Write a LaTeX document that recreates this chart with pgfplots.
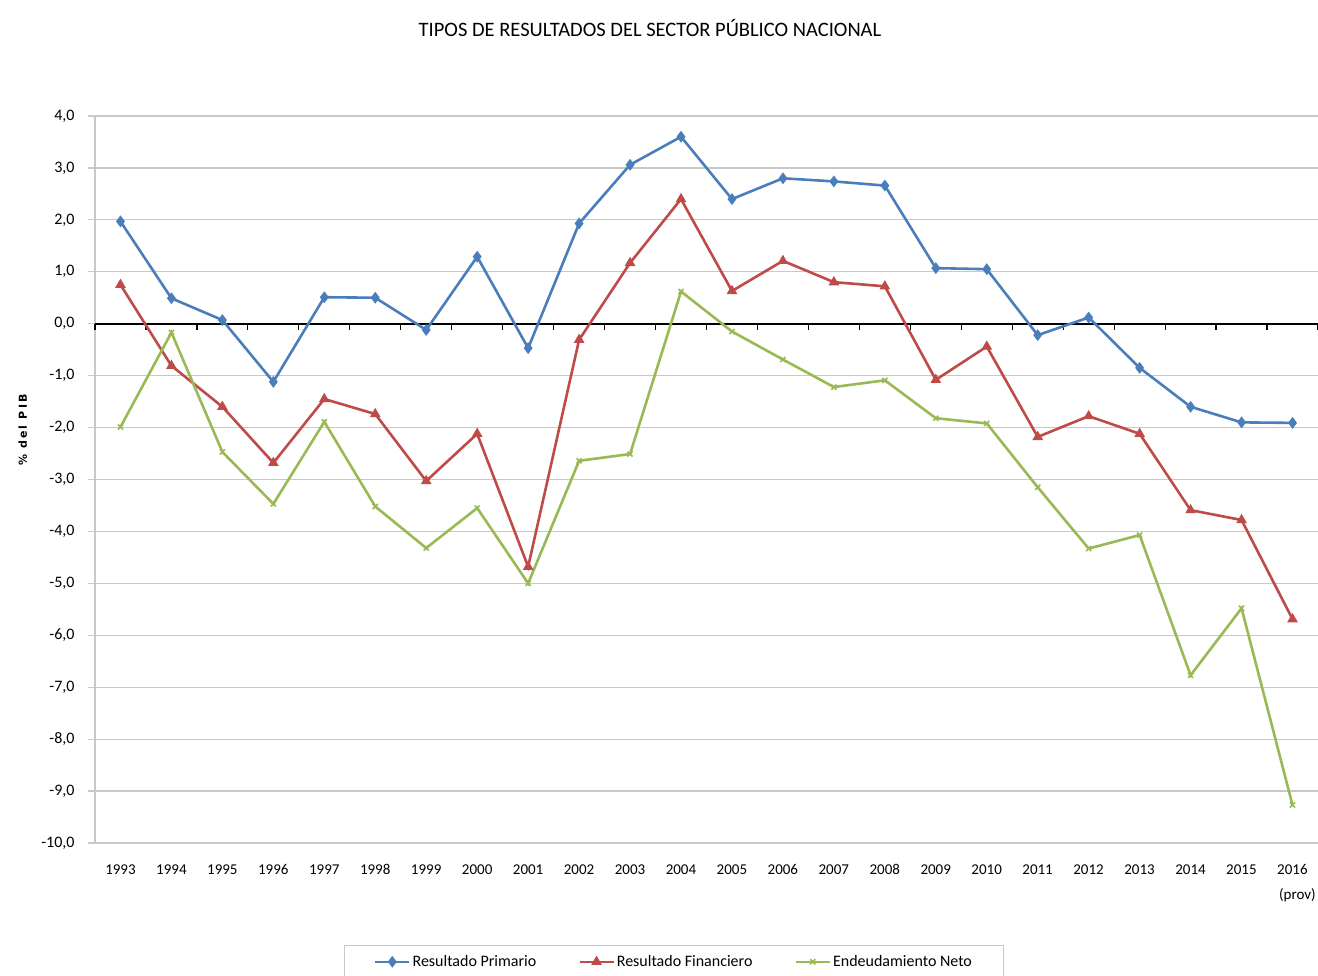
\documentclass[border=0pt]{standalone}
\usepackage{pgfplots}
\pgfplotsset{compat=1.18}
\usepackage{pgfplotstable}
\usepackage{fontspec}
\setmainfont{Carlito}
\newfontfamily\labfont[LetterSpace=20]{DejaVu Sans}
\definecolor{cb}{HTML}{4A7EBB}
\definecolor{cr}{HTML}{BE4B48}
\definecolor{cg}{HTML}{98B954}
\definecolor{gridc}{HTML}{C8C8C8}
\pgfplotstableread{
year P F E
1993 1.97 0.75 -1.99
1994 0.49 -0.81 -0.17
1995 0.07 -1.60 -2.47
1996 -1.12 -2.68 -3.47
1997 0.51 -1.45 -1.89
1998 0.50 -1.74 -3.52
1999 -0.12 -3.03 -4.32
2000 1.29 -2.12 -3.55
2001 -0.47 -4.68 -5.00
2002 1.93 -0.31 -2.64
2003 3.06 1.17 -2.51
2004 3.60 2.40 0.62
2005 2.40 0.63 -0.15
2006 2.80 1.21 -0.69
2007 2.74 0.80 -1.22
2008 2.66 0.72 -1.09
2009 1.07 -1.08 -1.82
2010 1.05 -0.44 -1.92
2011 -0.22 -2.18 -3.15
2012 0.12 -1.78 -4.33
2013 -0.85 -2.12 -4.07
2014 -1.60 -3.59 -6.77
2015 -1.90 -3.78 -5.48
2016 -1.91 -5.69 -9.27
}\data
\begin{document}
\begin{tikzpicture}[x=1pt,y=1pt]
\useasboundingbox (0,0) rectangle (1318,976);
\node[font=\fontsize{20.5}{22}\selectfont] at (650,948) {TIPOS DE RESULTADOS DEL SECTOR PÚBLICO NACIONAL};
\begin{axis}[
  at={(95pt,133pt)}, anchor=south west, scale only axis,
  width=1223pt, height=727pt,
  xmin=1992.5, xmax=2016.5, ymin=-10, ymax=4,
  xtick={1993,...,2016},
  xticklabels={1993,1994,1995,1996,1997,1998,1999,2000,2001,2002,2003,2004,2005,2006,2007,2008,2009,2010,2011,2012,2013,2014,2015,{2016\\\hspace*{10pt}(prov)}},
  xticklabel style={align=center, font=\fontsize{15}{25}\selectfont, yshift=-11pt},
  x tick style={draw=none},
  ytick distance=1,
  yticklabel style={font=\fontsize{16}{18}\selectfont, xshift=-10pt},
  y tick style={gridc, line width=1.2pt},
  major tick length=7pt,
  tick align=outside,
  /pgf/number format/.cd, fixed, fixed zerofill, precision=1, use comma, assume math mode=true,
  /pgfplots/.cd,
  ymajorgrids, grid style={gridc, line width=1.2pt},
  axis line style={draw=none},
  ylabel={\labfont\bfseries\fontsize{11}{12}\selectfont \% del PIB},
  ylabel style={at={(axis description cs:-0.059,0.568)}, anchor=center},
  legend columns=3,
  legend style={at={(0.4734,-0.1403)}, anchor=north, draw=gridc, line width=1pt,
    font=\fontsize{16}{18}\selectfont, inner xsep=30pt, inner ysep=8pt,
    /tikz/every even column/.append style={column sep=40pt}},
  legend image code/.code={\draw[mark repeat=2,mark phase=2] plot coordinates {(0pt,0pt) (17pt,0pt) (34pt,0pt)};},
  legend cell align=left,
  clip=false,
]
\draw[gridc, line width=1.2pt] (axis cs:1992.5,-10) -- (axis cs:1992.5,4);
\draw[black, line width=2.2pt] (axis cs:1992.5,0) -- (axis cs:2016.5,0);
\pgfplotsinvokeforeach{0,...,24}{\draw[black, line width=1.2pt] (axis cs:{1992.5+#1},0) -- ++(0pt,-6pt);}
\addplot[cb, line width=2.6pt, mark=diamond*, mark size=3.8pt] table[x=year, y=P] {\data};
\addlegendentry{Resultado Primario}
\addplot[cr, line width=2.6pt, mark=triangle*, mark size=3.6pt] table[x=year, y=F] {\data};
\addlegendentry{Resultado Financiero}
\addplot[cg, line width=2.6pt, mark=x, mark size=3.6pt, mark options={line width=1.6pt}] table[x=year, y=E] {\data};
\addlegendentry{Endeudamiento Neto}
\end{axis}
\end{tikzpicture}
\end{document}
